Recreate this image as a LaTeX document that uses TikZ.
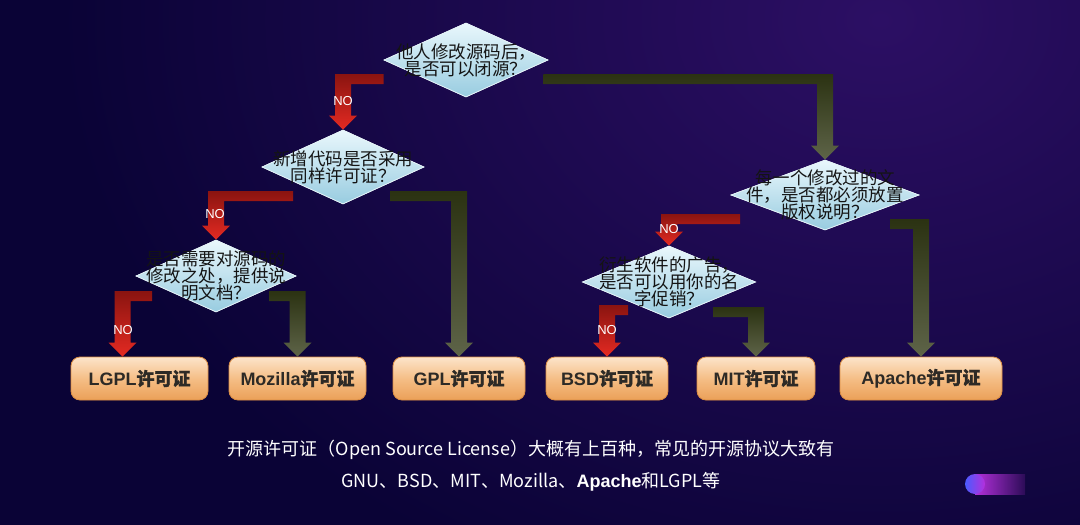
\documentclass[tikz,border=0pt]{standalone}
\usepackage{fontspec}
\setmainfont{Liberation Sans}
\newfontfamily\cjk{Noto Sans CJK SC}
\newfontfamily\cjkb{Noto Sans CJK SC}[FakeBold=1.2]
\usetikzlibrary{shapes.geometric,calc}
\definecolor{bgc}{HTML}{0A0336}
\definecolor{glowc}{HTML}{2C0F64}
\definecolor{dtop}{HTML}{E9F7FC}
\definecolor{dbot}{HTML}{98CCE0}
\definecolor{btop}{HTML}{FCE4CA}
\definecolor{bmid}{HTML}{F5BE86}
\definecolor{bbot}{HTML}{EBA058}
\definecolor{bdraw}{HTML}{DC8E44}
\definecolor{rtop}{HTML}{8A1410}
\definecolor{rbot}{HTML}{E42A22}
\definecolor{otop}{HTML}{2B3212}
\definecolor{obot}{HTML}{5E6448}
\definecolor{btext}{HTML}{2D2A26}
\definecolor{pillb}{HTML}{4B5BFF}
\definecolor{pillm}{HTML}{B430DC}
\newcommand\elbow[4]{%
  \path[#1] let \p1=(#2), \p2=(#3) in
    (\x1,\y1) -- ({\x2+(#4)*8pt},\y1) -- ({\x2+(#4)*8pt},{\y2+14pt})
    -- ({\x2+(#4)*14pt},{\y2+14pt}) -- (\x2,\y2)
    -- ({\x2-(#4)*14pt},{\y2+14pt}) -- ({\x2-(#4)*8pt},{\y2+14pt})
    -- ({\x2-(#4)*8pt},{\y1-10pt}) -- (\x1,{\y1-10pt}) -- cycle;}
\begin{document}
\begin{tikzpicture}[x=1pt,y=-1pt,
  diam/.style={diamond, inner sep=0pt, draw=white!75!dbot, line width=0.7pt,
    top color=dtop, bottom color=dbot},
  dtext/.style={font=\cjk\fontsize{17.5pt}{17pt}\selectfont, align=center, text=black!92, inner sep=0pt},
  lic/.style={rounded corners=9pt, minimum height=43pt, inner sep=0pt, draw=bdraw, line width=0.8pt,
    top color=btop, bottom color=bbot, middle color=bmid, text=btext,
    font=\fontsize{18pt}{20pt}\selectfont},
  redarr/.style={top color=rtop, bottom color=rbot},
  olivearr/.style={top color=otop, bottom color=obot},
  nolab/.style={text=white, font=\fontsize{13pt}{14pt}\selectfont, inner sep=0pt},
  foot/.style={text=white, font=\cjk\fontsize{18pt}{20pt}\selectfont, inner sep=0pt}]
\useasboundingbox (0,0) rectangle (1080,525);
\fill[bgc] (0,0) rectangle (1080,525);
\begin{scope}
  \clip (0,0) rectangle (1080,525);
  \shade[inner color=glowc, outer color=bgc] (880,20) ellipse [x radius=820, y radius=620];
\end{scope}

% nodes (diamonds)
\node[diam, minimum width=164pt, minimum height=74pt] (q1) at (466,60) {};
\node[diam, minimum width=162pt, minimum height=74pt] (q2) at (343,167) {};
\node[diam, minimum width=160pt, minimum height=72pt] (q3) at (216,276) {};
\node[diam, minimum width=188pt, minimum height=70pt] (q4) at (825,195) {};
\node[diam, minimum width=173pt, minimum height=72pt] (q5) at (669,282) {};

% license boxes
\node[lic, minimum width=137pt] (b1) at (139.5,378.5) {\bfseries LGPL{\cjkb 许可证}};
\node[lic, minimum width=137pt] (b2) at (297.5,378.5) {\bfseries Mozilla{\cjkb 许可证}};
\node[lic, minimum width=132pt] (b3) at (459,378.5) {\bfseries GPL{\cjkb 许可证}};
\node[lic, minimum width=122pt] (b4) at (607,378.5) {\bfseries BSD{\cjkb 许可证}};
\node[lic, minimum width=118pt] (b5) at (756,378.5) {\bfseries MIT{\cjkb 许可证}};
\node[lic, minimum width=162pt] (b6) at (921,378.5) {\bfseries Apache{\cjkb 许可证}};

% connectors (behind diamonds)
\begin{scope}
\elbow{redarr}{$(q1.west)+(0,14)$}{q2.north}{-1}
\elbow{olivearr}{$(q1.east)+(-5,14)$}{q4.north}{1}
\elbow{redarr}{$(q2.center)+(-50,24)$}{q3.north}{-1}
\elbow{olivearr}{$(q2.center)+(47,24)$}{b3.north}{1}
\elbow{redarr}{$(q3.center)+(-64,15)$}{$(b1.north)+(-17,0)$}{-1}
\elbow{olivearr}{$(q3.center)+(53,15)$}{b2.north}{1}
\elbow{redarr}{$(q4.center)+(-85,19)$}{q5.north}{-1}
\elbow{olivearr}{$(q4.center)+(65,24)$}{b6.north}{1}
\elbow{redarr}{$(q5.center)+(-41,23)$}{b4.north}{-1}
\elbow{olivearr}{$(q5.center)+(44,25)$}{b5.north}{1}
\end{scope}

% redraw diamonds on top of connectors
\node[diam, minimum width=164pt, minimum height=74pt] at (q1) {};
\node[diam, minimum width=162pt, minimum height=74pt] at (q2) {};
\node[diam, minimum width=160pt, minimum height=72pt] at (q3) {};
\node[diam, minimum width=188pt, minimum height=70pt] at (q4) {};
\node[diam, minimum width=173pt, minimum height=72pt] at (q5) {};

% diamond texts
\node[dtext] (q1t) at (q1) {他人修改源码后，\\是否可以闭源？};
\node[dtext] (q2t) at (q2) {新增代码是否采用\\同样许可证？};
\node[dtext] (q3t) at (q3) {是否需要对源码的\\修改之处，提供说\\明文档？};
\node[dtext] (q4t) at (q4) {每一个修改过的文\\件，是否都必须放置\\版权说明？};
\node[dtext] (q5t) at (q5) {衍生软件的广告，\\是否可以用你的名\\字促销？};

% NO labels
\node[nolab] (n1) at (343,101) {NO};
\node[nolab] (n2) at (215,214) {NO};
\node[nolab] (n3) at (123,330) {NO};
\node[nolab] (n4) at (669,229) {NO};
\node[nolab] (n5) at (607,330) {NO};

% footer text
\node[foot] (f1) at (531,450) {开源许可证（Open Source License）大概有上百种，常见的开源协议大致有};
\node[foot] (f2) at (531,482) {GNU、BSD、MIT、Mozilla、{\rmfamily\bfseries Apache}和LGPL等};

% pill decoration
\shade[left color=pillm, right color=bgc!80!pillm] (975,474) rectangle (1025,494);
\shade[left color=pillb, right color=pillm] (975,484) circle [radius=10];
\end{tikzpicture}
\end{document}
